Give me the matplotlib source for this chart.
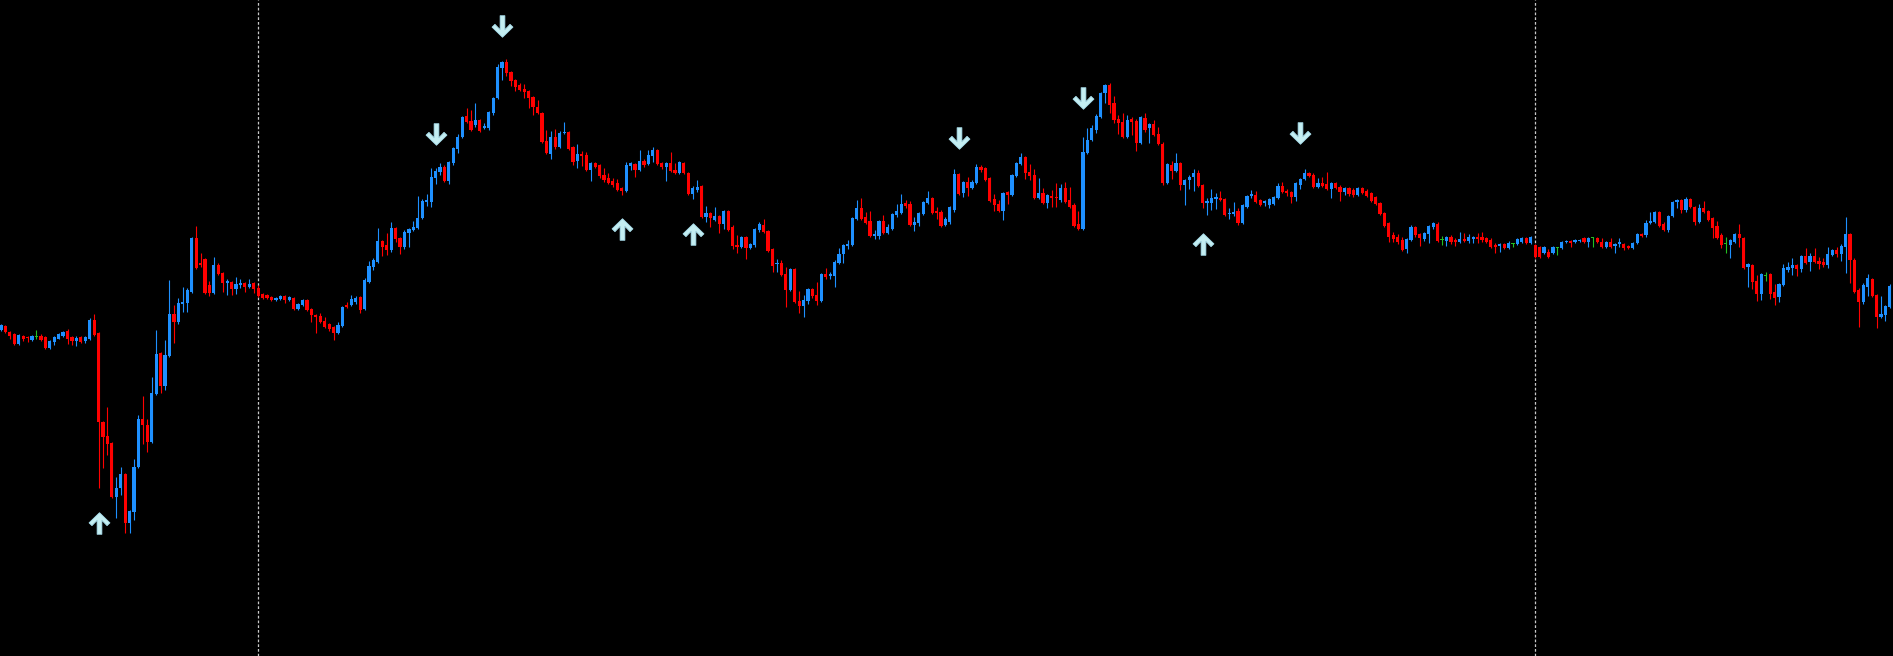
import numpy as np
import matplotlib
matplotlib.use("Agg")
import matplotlib.pyplot as plt
from matplotlib.path import Path

# OHLC per bar (price units), bars 0..427
OPEN = [326, 330, 324, 322, 312, 320, 319, 316, 319, 320, 319, 308, 314, 317, 320, 325, 319, 315, 319, 315,
        317, 336, 323, 234, 220, 213, 159, 168, 182, 133, 144, 189, 237, 231, 214, 262, 303, 270, 300, 342,
        334, 352, 353, 364, 418, 393, 397, 371, 363, 391, 383, 373, 374, 367, 371, 373, 369, 373, 368, 362,
        361, 359, 356, 357, 360, 356, 358, 347, 351, 356, 347, 341, 340, 335, 332, 329, 323, 330, 351, 351,
        354, 359, 347, 374, 389, 394, 415, 411, 406, 428, 418, 409, 423, 426, 428, 438, 454, 454, 478, 484,
        489, 475, 493, 507, 519, 540, 535, 531, 536, 528, 528, 543, 558, 588, 594, 584, 576, 571, 567, 565,
        559, 549, 543, 515, 502, 519, 509, 523, 524, 509, 495, 502, 501, 486, 493, 491, 481, 478, 475, 473,
        468, 465, 490, 492, 486, 495, 492, 500, 506, 493, 489, 493, 486, 483, 493, 483, 462, 466, 470, 439,
        443, 436, 440, 432, 445, 429, 411, 409, 419, 408, 411, 426, 431, 425, 407, 392, 393, 382, 366, 387,
        355, 350, 355, 367, 361, 355, 382, 380, 380, 393, 402, 410, 411, 437, 448, 439, 435, 420, 420, 435,
        423, 427, 441, 443, 453, 452, 431, 433, 442, 453, 458, 445, 444, 431, 434, 446, 482, 463, 474, 468,
        473, 489, 488, 478, 457, 452, 445, 464, 461, 480, 492, 499, 484, 481, 458, 463, 453, 460, 459, 456,
        468, 456, 451, 432, 427, 503, 516, 526, 539, 563, 571, 553, 537, 534, 519, 537, 535, 513, 538, 528,
        532, 522, 512, 473, 491, 485, 493, 471, 476, 479, 483, 471, 453, 453, 457, 458, 457, 442, 442, 445,
        433, 449, 460, 461, 456, 453, 451, 452, 458, 470, 465, 464, 459, 471, 477, 483, 481, 469, 473, 472,
        467, 473, 469, 464, 468, 466, 461, 468, 465, 463, 459, 453, 443, 433, 421, 419, 416, 407, 416, 429,
        422, 417, 422, 429, 432, 416, 415, 419, 416, 414, 417, 415, 417, 419, 419, 418, 416, 411, 410, 412,
        408, 412, 412, 414, 418, 413, 411, 409, 403, 404, 403, 408, 408, 414, 415, 414, 415, 418, 414, 418,
        418, 414, 409, 414, 410, 412, 412, 410, 408, 413, 422, 421, 433, 434, 444, 432, 426, 440, 454, 456,
        446, 457, 449, 434, 448, 445, 438, 430, 421, 412, 411, 414, 422, 418, 389, 391, 375, 362, 380, 382,
        364, 359, 371, 386, 388, 391, 387, 400, 394, 400, 395, 394, 391, 401, 406, 402, 409, 422, 396, 366,
        354, 369, 377, 361, 339, 341, 349, 369]
HIGH = [332, 331, 325, 323, 322, 321, 320, 321, 326, 322, 320, 316, 320, 323, 325, 327, 320, 320, 320, 320,
        338, 342, 324, 235, 249, 214, 179, 189, 183, 146, 197, 241, 260, 237, 279, 326, 304, 316, 376, 351,
        358, 369, 368, 419, 430, 403, 398, 375, 399, 393, 384, 377, 375, 379, 377, 374, 377, 374, 371, 363,
        362, 360, 359, 361, 361, 360, 359, 353, 357, 357, 348, 342, 343, 339, 333, 330, 334, 350, 354, 361,
        360, 360, 378, 395, 398, 428, 416, 423, 434, 429, 419, 426, 428, 435, 460, 457, 462, 488, 488, 493,
        491, 495, 509, 522, 540, 548, 546, 553, 537, 533, 545, 559, 592, 595, 597, 585, 577, 573, 572, 566,
        560, 556, 544, 526, 525, 527, 525, 534, 525, 510, 512, 505, 504, 494, 494, 492, 488, 483, 478, 477,
        469, 494, 494, 493, 506, 497, 506, 509, 507, 494, 494, 504, 493, 495, 494, 484, 470, 476, 471, 450,
        444, 449, 441, 446, 446, 431, 421, 420, 420, 413, 428, 434, 437, 426, 408, 397, 396, 389, 388, 388,
        365, 361, 368, 368, 374, 383, 388, 384, 396, 408, 412, 416, 439, 456, 458, 444, 445, 426, 436, 441,
        432, 443, 452, 462, 456, 455, 439, 444, 455, 465, 459, 449, 446, 439, 450, 487, 483, 475, 479, 476,
        492, 491, 489, 479, 462, 456, 464, 465, 482, 494, 503, 500, 492, 487, 478, 468, 462, 466, 473, 472,
        474, 469, 453, 445, 519, 528, 531, 542, 564, 572, 573, 560, 541, 543, 541, 539, 537, 540, 543, 533,
        536, 529, 514, 493, 495, 503, 494, 477, 481, 487, 486, 472, 458, 467, 463, 465, 458, 448, 454, 448,
        452, 461, 466, 465, 457, 456, 458, 460, 473, 474, 467, 465, 474, 478, 487, 484, 483, 478, 479, 484,
        474, 474, 471, 469, 469, 468, 469, 469, 467, 464, 460, 454, 444, 434, 424, 422, 419, 418, 431, 430,
        423, 424, 431, 434, 434, 420, 420, 421, 418, 424, 423, 422, 420, 423, 424, 419, 418, 413, 413, 413,
        415, 413, 418, 419, 419, 420, 412, 410, 410, 407, 410, 409, 415, 416, 416, 417, 417, 419, 419, 419,
        419, 418, 415, 418, 413, 418, 413, 411, 414, 423, 423, 436, 444, 445, 445, 434, 441, 455, 457, 457,
        459, 458, 450, 452, 455, 446, 439, 435, 423, 419, 417, 423, 432, 419, 393, 392, 381, 383, 384, 383,
        372, 373, 392, 394, 398, 392, 401, 408, 403, 408, 399, 398, 409, 407, 409, 412, 439, 423, 398, 368,
        373, 382, 378, 362, 360, 351, 372, 370]
LOW = [325, 323, 317, 311, 311, 315, 314, 315, 317, 315, 307, 307, 311, 317, 319, 312, 311, 310, 313, 313,
       316, 320, 168, 188, 201, 158, 138, 161, 123, 123, 136, 188, 212, 204, 213, 261, 263, 266, 299, 313,
       332, 344, 344, 363, 387, 389, 362, 360, 362, 381, 364, 361, 361, 362, 368, 364, 368, 363, 359, 357,
       357, 355, 355, 356, 353, 355, 346, 346, 350, 345, 334, 323, 333, 328, 325, 316, 322, 329, 348, 350,
       352, 343, 346, 373, 386, 393, 400, 401, 404, 414, 402, 407, 409, 425, 427, 437, 450, 449, 472, 481,
       474, 472, 491, 503, 518, 533, 525, 529, 524, 527, 526, 541, 557, 576, 580, 570, 565, 565, 558, 548,
       541, 542, 513, 502, 497, 507, 508, 522, 506, 491, 488, 490, 485, 475, 488, 478, 474, 472, 469, 465,
       461, 464, 486, 479, 485, 489, 491, 494, 491, 487, 475, 484, 482, 482, 482, 461, 457, 464, 438, 434,
       429, 435, 423, 427, 425, 407, 403, 408, 397, 407, 409, 424, 423, 404, 384, 384, 380, 349, 365, 353,
       343, 339, 352, 358, 351, 354, 377, 377, 369, 392, 393, 407, 410, 436, 436, 432, 419, 417, 417, 422,
       422, 426, 439, 442, 448, 430, 425, 430, 441, 452, 442, 437, 429, 430, 432, 444, 461, 459, 460, 467,
       472, 484, 475, 454, 445, 444, 436, 452, 460, 479, 491, 477, 476, 457, 457, 452, 448, 449, 449, 454,
       453, 448, 429, 426, 426, 502, 515, 523, 538, 553, 543, 533, 522, 518, 518, 521, 505, 512, 524, 513,
       520, 511, 471, 472, 477, 484, 466, 451, 467, 465, 469, 448, 441, 446, 447, 455, 440, 437, 440, 431,
       432, 448, 458, 453, 450, 450, 448, 451, 457, 463, 460, 453, 455, 467, 476, 479, 468, 468, 469, 466,
       458, 467, 455, 461, 460, 459, 460, 462, 459, 454, 451, 441, 429, 414, 414, 412, 405, 403, 415, 419,
       410, 415, 413, 427, 414, 411, 410, 412, 410, 413, 414, 413, 413, 413, 414, 413, 408, 403, 404, 407,
       407, 409, 411, 413, 412, 412, 398, 398, 402, 398, 402, 401, 407, 413, 409, 413, 414, 413, 409, 409,
       413, 408, 408, 408, 403, 409, 406, 407, 407, 412, 419, 419, 432, 433, 429, 425, 424, 439, 448, 443,
       444, 448, 431, 433, 443, 435, 418, 417, 408, 403, 398, 413, 409, 387, 369, 367, 355, 356, 375, 357,
       351, 354, 370, 384, 381, 380, 384, 392, 385, 393, 387, 389, 388, 400, 399, 395, 383, 373, 363, 329,
       352, 360, 359, 328, 338, 335, 348, 362]
CLOSE = [331, 324, 320, 312, 321, 317, 318, 320, 319, 316, 308, 315, 319, 322, 324, 317, 315, 318, 314, 319,
         336, 321, 234, 219, 212, 159, 168, 182, 133, 145, 189, 237, 231, 214, 263, 302, 270, 301, 342, 334,
         353, 354, 366, 418, 388, 391, 363, 363, 391, 382, 373, 375, 367, 372, 373, 369, 372, 367, 360, 358,
         358, 356, 358, 360, 356, 359, 347, 352, 356, 346, 341, 339, 334, 329, 327, 323, 331, 349, 349, 357,
         358, 346, 376, 390, 396, 415, 409, 406, 428, 417, 409, 424, 427, 429, 438, 455, 456, 479, 485, 489,
         475, 494, 508, 519, 539, 534, 526, 536, 525, 530, 544, 558, 589, 594, 583, 575, 569, 566, 564, 558,
         549, 543, 514, 503, 519, 509, 523, 524, 507, 494, 502, 500, 486, 493, 489, 480, 476, 473, 471, 466,
         465, 491, 493, 486, 495, 491, 501, 506, 492, 489, 493, 485, 483, 494, 483, 462, 468, 469, 439, 443,
         438, 440, 432, 445, 426, 410, 409, 419, 408, 412, 427, 432, 424, 405, 390, 393, 381, 366, 387, 354,
         350, 356, 367, 360, 355, 382, 379, 382, 394, 402, 411, 412, 438, 448, 437, 433, 420, 422, 435, 423,
         429, 442, 445, 452, 450, 431, 434, 443, 454, 458, 443, 443, 430, 437, 449, 482, 462, 474, 468, 474,
         489, 486, 476, 455, 451, 445, 463, 461, 481, 493, 499, 483, 480, 458, 463, 453, 461, 458, 458, 468,
         454, 449, 430, 427, 504, 516, 528, 540, 563, 571, 551, 536, 533, 519, 536, 534, 513, 539, 526, 532,
         521, 512, 473, 492, 485, 493, 471, 476, 479, 483, 470, 453, 455, 458, 459, 456, 441, 443, 444, 433,
         451, 460, 462, 454, 451, 455, 457, 459, 470, 464, 463, 459, 473, 477, 483, 480, 469, 473, 470, 467,
         473, 468, 464, 468, 462, 461, 468, 463, 460, 455, 452, 442, 430, 419, 417, 414, 406, 417, 429, 421,
         418, 423, 430, 433, 415, 416, 419, 414, 414, 417, 415, 419, 419, 417, 416, 414, 409, 409, 412, 408,
         413, 412, 417, 418, 413, 419, 399, 399, 409, 399, 409, 408, 414, 415, 413, 416, 416, 414, 418, 418,
         414, 409, 414, 409, 412, 414, 408, 408, 413, 422, 420, 433, 435, 444, 430, 426, 440, 454, 456, 446,
         457, 449, 434, 448, 444, 436, 428, 418, 411, 412, 416, 422, 418, 388, 392, 374, 362, 382, 380, 362,
         358, 372, 388, 389, 391, 387, 400, 393, 400, 394, 392, 391, 402, 406, 402, 410, 422, 396, 364, 354,
         371, 378, 360, 339, 342, 350, 370, 363]

# fractal-style signal arrows: bar index, direction, arrow centre price
ARROW_IDX = [22, 98, 113, 140, 156, 216, 244, 271, 293]
ARROW_DIR = ["up", "down", "down", "up", "up", "down", "down", "up", "down"]
ARROW_Y = [133, 522, 630, 427, 422, 518, 558, 412, 523]

# period separators (start of day)
SEPARATORS = [58, 346]

BULL = "#1e90ff"
BEAR = "#ff0000"
DOJI = "#22c022"
ARROW_COLOR = "#c4eef2"

o = np.array(OPEN, float)
h = np.array(HIGH, float)
l = np.array(LOW, float)
c = np.array(CLOSE, float)
x = np.arange(len(o))

colors = np.where(c > o, BULL, np.where(c < o, BEAR, DOJI))

fig = plt.figure(figsize=(18.93, 6.56), dpi=100, facecolor="black")
ax = fig.add_axes([0, 0, 1, 1])
ax.set_facecolor("black")

for sx in SEPARATORS:
    ax.axvline(sx, color="#c8c8c8", lw=0.9, linestyle=(0, (2.2, 1.6)), zorder=1)

ax.vlines(x, l, h, colors=colors, linewidth=0.8, zorder=2)
bottom = np.minimum(o, c)
height = np.maximum(np.abs(c - o), 0.8)
ax.bar(x, height, bottom=bottom, width=0.72, color=colors, linewidth=0, zorder=3)

# arrow marker (pointing down), flipped for up arrows
verts = [(-0.22, 1.0), (0.22, 1.0), (0.22, -0.30), (0.70, 0.20), (0.97, -0.06),
         (0.0, -1.0), (-0.97, -0.06), (-0.70, 0.20), (-0.22, -0.30), (-0.22, 1.0)]
down_arrow = Path(verts, closed=True)
up_arrow = Path([(vx, -vy) for vx, vy in verts], closed=True)

for idx, d, y in zip(ARROW_IDX, ARROW_DIR, ARROW_Y):
    ax.plot(idx, y, marker=up_arrow if d == "up" else down_arrow, markersize=15.5,
            color=ARROW_COLOR, markeredgecolor="#a6dceb", markeredgewidth=0.6, zorder=4)

ax.set_xlim(-0.226, 426.7)
ax.set_ylim(0, 656)
ax.axis("off")

fig.savefig("out.png", dpi=100, facecolor="black")
